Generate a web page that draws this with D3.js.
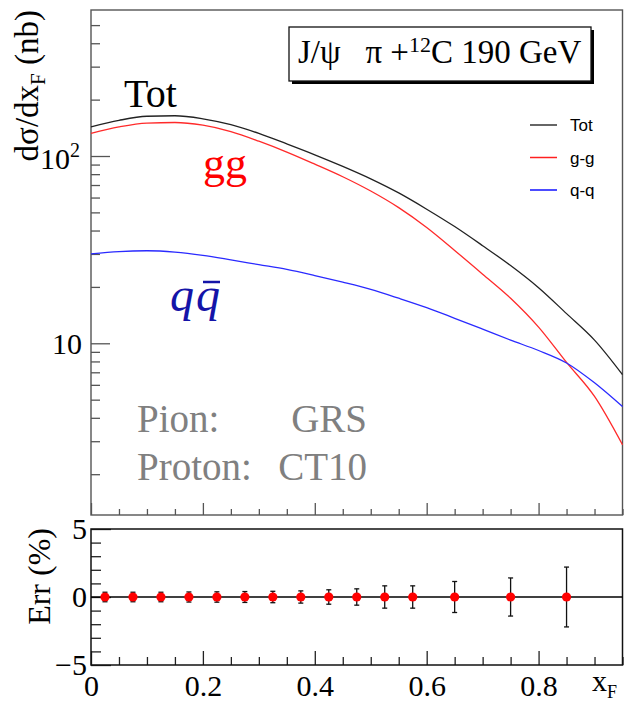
<!DOCTYPE html>
<html>
<head>
<meta charset="utf-8">
<script src="https://cdnjs.cloudflare.com/ajax/libs/d3/7.8.5/d3.min.js"></script>
<style>
	body { margin: 0; background: #fff; }
	svg { display: block; }
	text { font-family: "Liberation Serif", "Times New Roman", serif; }
</style>
</head>
<body>
<div id="chart"></div>
<script>
// cross sections (nb) read at xF steps of 0.05
var xF = [0, 0.05, 0.1, 0.15, 0.2, 0.25, 0.3, 0.35, 0.4, 0.45, 0.5, 0.55, 0.6, 0.65, 0.7, 0.75, 0.8, 0.85, 0.9, 0.95];
var totVals = [143, 155, 163, 164, 158, 147, 132, 116, 101.5, 88, 75.5, 63.5, 52, 42, 33.2, 26, 19.8, 14.4, 10.4, 6.8];
var ggVals = [132, 143, 150, 151, 146, 135, 120, 105, 90.5, 77.5, 65, 53, 41.5, 31.3, 23.4, 17.4, 12.2, 7.9, 5.2, 2.87];
var qqVals = [30.0, 30.9, 31.2, 30.7, 29.5, 27.9, 26.3, 24.8, 23.0, 21.2, 19.4, 17.4, 15.5, 13.6, 11.9, 10.4, 9.15, 7.85, 6.15, 4.59];

// relative error panel (%)
var errX = [0.025, 0.075, 0.125, 0.175, 0.225, 0.275, 0.325, 0.375, 0.425, 0.475, 0.525, 0.575, 0.65, 0.75, 0.85];
var errVals = [0, 0, 0, 0, 0, 0, 0, 0, 0, 0, 0, 0, 0, 0, 0];
var errBars = [0.35, 0.35, 0.35, 0.37, 0.38, 0.4, 0.42, 0.45, 0.53, 0.6, 0.82, 0.82, 1.14, 1.4, 2.2];

var xTicks = [0, 0.2, 0.4, 0.6, 0.8];
var xTickLabels = ["0", "0.2", "0.4", "0.6", "0.8"];
var errTicks = [-5, 0, 5];
var errTickLabels = ["\u22125", "0", "5"];

var seriesNames = ["Tot", "g-g", "q-q"];
var seriesColors = ["#222", "#ff2a2a", "#2a2aff"];
var legendColors = ["#333", "#ff2020", "#1010ff"];

var W = 624, H = 702;
var left = 91, right = 622.5;
var top1 = 10, bot1 = 515;
var top2 = 529, bot2 = 665;

var svg = d3.select("#chart").append("svg")
	.attr("width", W)
	.attr("height", H);

var x = d3.scaleLinear().domain([0, 0.95]).range([left, right]);
var y = d3.scaleLog().domain([1.211, 602]).range([bot1, top1]);
var yErr = d3.scaleLinear().domain([-5, 5]).range([bot2, top2]);

var minorX = d3.range(0, 20).map(function(i) { return i * 0.05; }).filter(function(v) { return Math.round(v * 100) % 20 !== 0; });
var minorY = [2, 3, 4, 5, 6, 7, 8, 9, 20, 30, 40, 50, 60, 70, 80, 90, 200, 300, 400, 500];

// ---- top panel ----
function tickAxis(axis, g) {
	g.call(axis);
	g.select(".domain").remove();
	g.selectAll("line").attr("stroke", "#555").attr("stroke-width", 1.3);
}

tickAxis(d3.axisBottom(x).tickValues(xTicks).tickSize(-12).tickFormat(""),
	svg.append("g").attr("transform", "translate(0," + bot1 + ")"));
tickAxis(d3.axisBottom(x).tickValues(minorX).tickSize(-6).tickFormat(""),
	svg.append("g").attr("transform", "translate(0," + bot1 + ")"));
tickAxis(d3.axisLeft(y).tickValues([10, 100]).tickSize(-19).tickFormat(""),
	svg.append("g").attr("transform", "translate(" + left + ",0)"));
tickAxis(d3.axisLeft(y).tickValues(minorY).tickSize(-9).tickFormat(""),
	svg.append("g").attr("transform", "translate(" + left + ",0)"));

svg.append("rect")
	.attr("x", left).attr("y", top1)
	.attr("width", right - left).attr("height", bot1 - top1)
	.attr("fill", "none")
	.attr("stroke", "#555")
	.attr("stroke-width", 1.4);

// log tick labels
svg.append("text")
	.attr("x", 82).attr("y", y(10) + 11)
	.attr("text-anchor", "end")
	.style("font-size", "30px")
	.text("10");
var t100 = svg.append("text")
	.attr("x", 80).attr("y", y(100) + 13)
	.attr("text-anchor", "end")
	.style("font-size", "30px");
t100.append("tspan").text("10");
t100.append("tspan").attr("dy", -12).style("font-size", "20px").text("2");

// curves
var line = d3.line()
	.x(function(d) { return x(d[0]); })
	.y(function(d) { return y(d[1]); })
	.curve(d3.curveMonotoneX);

[totVals, ggVals, qqVals].forEach(function(vals, i) {
	svg.append("path")
		.datum(xF.map(function(v, j) { return [v, vals[j]]; }))
		.attr("fill", "none")
		.attr("stroke", seriesColors[i])
		.attr("stroke-width", 1.3)
		.attr("d", line);
});

// y title
var yt = svg.append("text")
	.attr("transform", "translate(38,10) rotate(-90)")
	.attr("text-anchor", "end")
	.style("font-size", "33px");
yt.append("tspan").text("d\u03c3/dx");
yt.append("tspan").attr("dy", 7).style("font-size", "21px").text("F");
yt.append("tspan").attr("dy", -7).text(" (nb)");

// curve labels
svg.append("text").attr("x", 124).attr("y", 107).style("font-size", "40px").attr("fill", "#000").text("Tot");
svg.append("text").attr("x", 203).attr("y", 178).style("font-size", "44px").attr("fill", "#ff0000").text("gg");
svg.append("text").attr("x", 170).attr("y", 311).style("font-size", "48px").style("font-style", "italic").attr("fill", "#1414a8").text("q");
svg.append("text").attr("x", 196).attr("y", 311).style("font-size", "48px").style("font-style", "italic").attr("fill", "#1414a8").text("q");
svg.append("line")
	.attr("x1", 203).attr("x2", 220)
	.attr("y1", 282).attr("y2", 282)
	.attr("stroke", "#1414a8").attr("stroke-width", 2.5);

// info text
svg.append("text").attr("x", 137).attr("y", 432).style("font-size", "39px").attr("fill", "#808080").text("Pion:");
svg.append("text").attr("x", 367).attr("y", 432).attr("text-anchor", "end").style("font-size", "39px").attr("fill", "#808080").text("GRS");
svg.append("text").attr("x", 137).attr("y", 480).style("font-size", "39px").attr("fill", "#808080").text("Proton:");
svg.append("text").attr("x", 367).attr("y", 480).attr("text-anchor", "end").style("font-size", "39px").attr("fill", "#808080").text("CT10");

// title box with shadow
svg.append("rect").attr("x", 292).attr("y", 30).attr("width", 302).attr("height", 54).attr("fill", "#000");
svg.append("rect")
	.attr("x", 289).attr("y", 27)
	.attr("width", 302).attr("height", 54)
	.attr("fill", "#fff")
	.attr("stroke", "#111")
	.attr("stroke-width", 1.3);
var tt = svg.append("text")
	.attr("x", 298).attr("y", 63)
	.style("font-size", "33px")
	.style("white-space", "pre");
tt.append("tspan").text("J/\u03c8   \u03c0 +");
tt.append("tspan").attr("dy", -11).style("font-size", "22px").text("12");
tt.append("tspan").attr("dy", 11).text("C 190 GeV");

// legend
var leg = svg.append("g");
seriesNames.forEach(function(name, i) {
	var ly = 125 + i * 32.5;
	leg.append("line")
		.attr("x1", 530).attr("x2", 557)
		.attr("y1", ly).attr("y2", ly)
		.attr("stroke", legendColors[i])
		.attr("stroke-width", 1.5);
	leg.append("text")
		.attr("x", 570).attr("y", ly + 6)
		.style("font-family", "'Liberation Sans', Arial, sans-serif")
		.style("font-size", "17px")
		.text(name);
});

// ---- bottom panel ----
function tickAxis2(axis, g) {
	g.call(axis);
	g.select(".domain").remove();
	g.selectAll("line").attr("stroke", "#222").attr("stroke-width", 1.3);
	g.selectAll("text")
		.style("font-family", "'Liberation Serif', 'Times New Roman', serif")
		.style("font-size", "30px")
		.attr("fill", "#000");
}

tickAxis2(d3.axisBottom(x).tickValues(xTicks).tickSize(-14).tickPadding(10)
	.tickFormat(function(d, i) { return xTickLabels[i]; }),
	svg.append("g").attr("transform", "translate(0," + bot2 + ")"));
tickAxis2(d3.axisBottom(x).tickValues(minorX).tickSize(-8).tickFormat(""),
	svg.append("g").attr("transform", "translate(0," + bot2 + ")"));
tickAxis2(d3.axisLeft(yErr).tickValues(errTicks).tickSize(-20).tickPadding(4)
	.tickFormat(function(d, i) { return errTickLabels[i]; }),
	svg.append("g").attr("transform", "translate(" + left + ",0)"));
tickAxis2(d3.axisLeft(yErr).tickValues([-4, -3, -2, -1, 1, 2, 3, 4]).tickSize(-10).tickFormat(""),
	svg.append("g").attr("transform", "translate(" + left + ",0)"));

svg.append("rect")
	.attr("x", left).attr("y", top2)
	.attr("width", right - left).attr("height", bot2 - top2)
	.attr("fill", "none")
	.attr("stroke", "#111")
	.attr("stroke-width", 1.5);

svg.append("line")
	.attr("x1", left).attr("x2", right)
	.attr("y1", yErr(0)).attr("y2", yErr(0))
	.attr("stroke", "#000")
	.attr("stroke-width", 1.5);

var pts = svg.append("g").selectAll("g")
	.data(errX.map(function(v, i) { return {x: v, y: errVals[i], e: errBars[i]}; }))
	.enter().append("g");

pts.append("line")
	.attr("x1", function(d) { return x(d.x); })
	.attr("x2", function(d) { return x(d.x); })
	.attr("y1", function(d) { return yErr(d.y - d.e); })
	.attr("y2", function(d) { return yErr(d.y + d.e); })
	.attr("stroke", "#111").attr("stroke-width", 1.3);
[-1, 1].forEach(function(s) {
	pts.append("line")
		.attr("x1", function(d) { return x(d.x) - 2.5; })
		.attr("x2", function(d) { return x(d.x) + 2.5; })
		.attr("y1", function(d) { return yErr(d.y + s * d.e); })
		.attr("y2", function(d) { return yErr(d.y + s * d.e); })
		.attr("stroke", "#111").attr("stroke-width", 1.3);
});
pts.append("circle")
	.attr("cx", function(d) { return x(d.x); })
	.attr("cy", function(d) { return yErr(d.y); })
	.attr("r", 4.6)
	.attr("fill", "#ff0000");

// bottom titles
svg.append("text")
	.attr("transform", "translate(50,528) rotate(-90)")
	.attr("text-anchor", "end")
	.style("font-size", "32px")
	.text("Err (%)");

var xt = svg.append("text")
	.attr("x", 592).attr("y", 691)
	.style("font-size", "30px");
xt.append("tspan").text("x");
xt.append("tspan").attr("dy", 7).style("font-size", "18px").text("F");
</script>
</body>
</html>
